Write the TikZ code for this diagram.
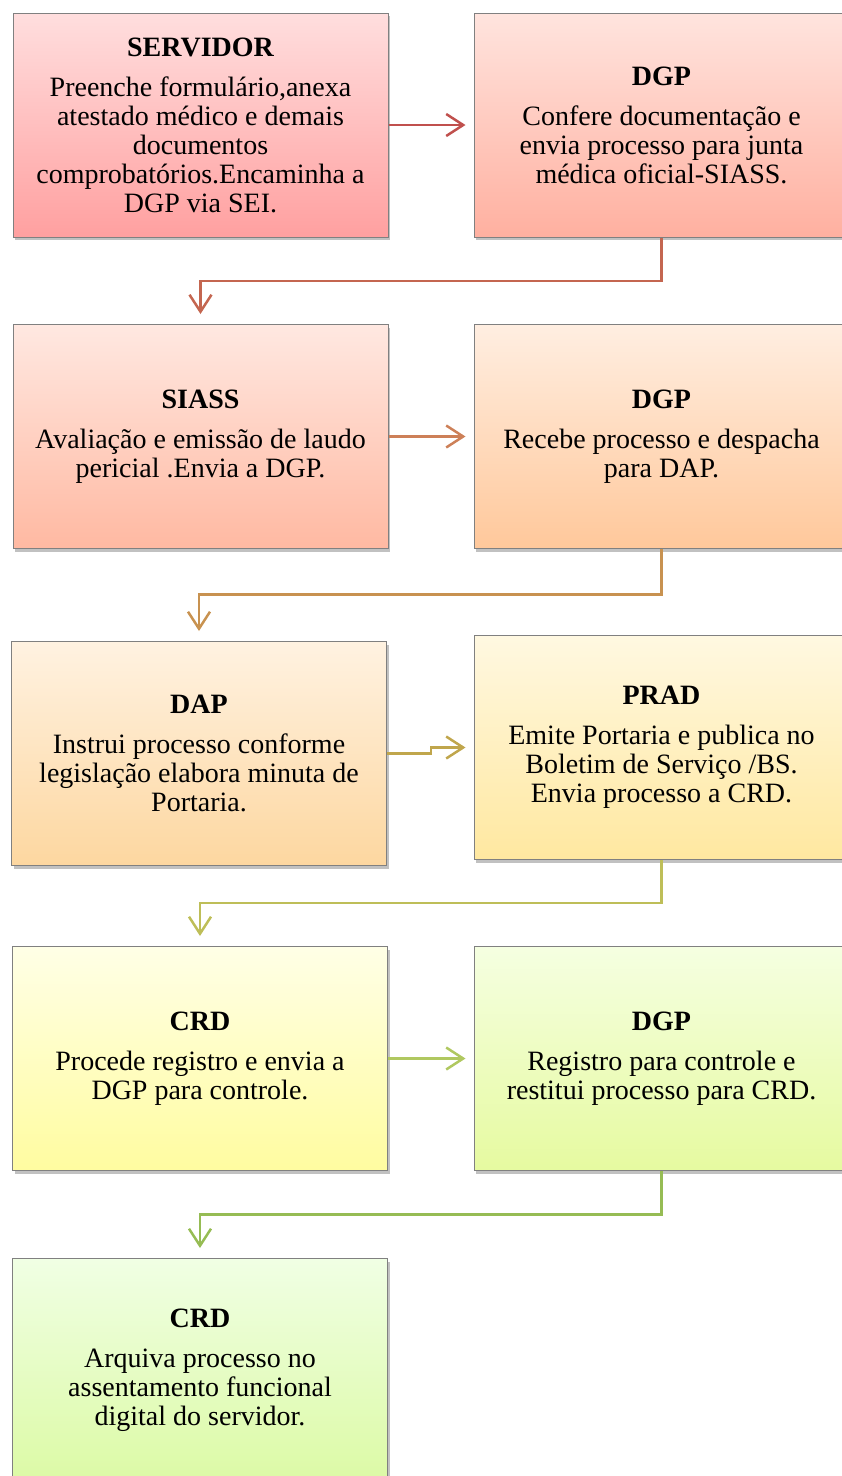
\documentclass[tikz,border=0pt]{standalone}
\usepackage{fontspec}
\setmainfont{Liberation Serif}
\usetikzlibrary{arrows.meta,shadows,calc}
\definecolor{aA}{RGB}{192,80,77}
\definecolor{eA}{RGB}{196,102,80}
\definecolor{aB}{RGB}{205,128,88}
\definecolor{eB}{RGB}{200,146,80}
\definecolor{aC}{RGB}{192,166,76}
\definecolor{eC}{RGB}{190,190,88}
\definecolor{aD}{RGB}{176,200,96}
\definecolor{eD}{RGB}{150,188,84}
\definecolor{t1}{RGB}{255,222,222}\definecolor{b1}{RGB}{255,160,160}
\definecolor{t2}{RGB}{255,228,222}\definecolor{b2}{RGB}{255,176,160}
\definecolor{t3}{RGB}{255,232,225}\definecolor{b3}{RGB}{255,185,162}
\definecolor{t4}{RGB}{255,238,225}\definecolor{b4}{RGB}{255,200,155}
\definecolor{t5}{RGB}{255,242,225}\definecolor{b5}{RGB}{253,215,160}
\definecolor{t6}{RGB}{255,248,225}\definecolor{b6}{RGB}{255,232,160}
\definecolor{t7}{RGB}{255,255,230}\definecolor{b7}{RGB}{255,252,160}
\definecolor{t8}{RGB}{245,255,225}\definecolor{b8}{RGB}{230,250,160}
\definecolor{t9}{RGB}{240,255,228}\definecolor{b9}{RGB}{220,250,165}
\tikzset{
  box/.style={rectangle, draw=black!50, line width=1pt,
    minimum width=375pt, minimum height=224pt, inner sep=0pt,
    align=center, font=\fontsize{28}{29}\selectfont,
    drop shadow={shadow xshift=2pt,shadow yshift=-3pt,opacity=.35,fill=black!70}},
  conn/.style={line width=2.5pt, -{Straight Barb[length=17pt,width=22pt,line width=2.5pt]}},
  hconn/.style={conn, shorten >=8pt},
  vconn/.style={conn, shorten >=10pt}
}
\newcommand{\ttl}[1]{{\bfseries #1}\\[11pt]}
\begin{document}
\begin{tikzpicture}[x=1pt,y=-1pt]
\useasboundingbox (0,0) rectangle (842,1476);
\clip (0,0) rectangle (842,1476);
\node[box, top color=t1, bottom color=b1] (s1) at (200.5,125)
  {\ttl{SERVIDOR}Preenche formulário,anexa\\atestado médico e demais\\documentos\\comprobatórios.Encaminha a\\DGP via SEI.};
\node[box, top color=t2, bottom color=b2] (d1) at (661.5,125)
  {\ttl{DGP}Confere documentação e\\envia processo para junta\\médica oficial-SIASS.};
\node[box, top color=t3, bottom color=b3] (s2) at (200.5,436.5)
  {\ttl{SIASS}Avaliação e emissão de laudo\\pericial .Envia a DGP.};
\node[box, top color=t4, bottom color=b4] (d2) at (661.5,436.5)
  {\ttl{DGP}Recebe processo e despacha\\para DAP.};
\node[box, top color=t5, bottom color=b5] (s3) at (199,753.5)
  {\ttl{DAP}Instrui processo conforme\\legislação elabora minuta de\\Portaria.};
\node[box, top color=t6, bottom color=b6] (d3) at (661.5,747.5)
  {\ttl{PRAD}Emite Portaria e publica no\\Boletim de Serviço /BS.\\Envia processo a CRD.};
\node[box, top color=t7, bottom color=b7] (s4) at (200,1058.5)
  {\ttl{CRD}Procede registro e envia a\\DGP para controle.};
\node[box, top color=t8, bottom color=b8] (d4) at (661.5,1058.5)
  {\ttl{DGP}Registro para controle e\\restitui processo para CRD.};
\node[box, top color=t9, bottom color=b9] (s5) at (200,1370.5)
  {\ttl{CRD}Arquiva processo no\\assentamento funcional\\digital do servidor.};

\draw[hconn, aA] (s1.east) -- (d1.west);
\draw[vconn, eA] (d1.south) -- ++(0,43.5) -| (s2.north);
\draw[hconn, aB] (s2.east) -- (d2.west);
\draw[vconn, eB] (d2.south) -- ++(0,45.5) -| (s3.north);
\draw[hconn, aC] (s3.east) -- ++(44,0) |- (d3.west);
\draw[vconn, eC] (d3.south) -- ++(0,43) -| (s4.north);
\draw[hconn, aD] (s4.east) -- (d4.west);
\draw[vconn, eD] (d4.south) -- ++(0,43.5) -| (s5.north);
\end{tikzpicture}
\end{document}
